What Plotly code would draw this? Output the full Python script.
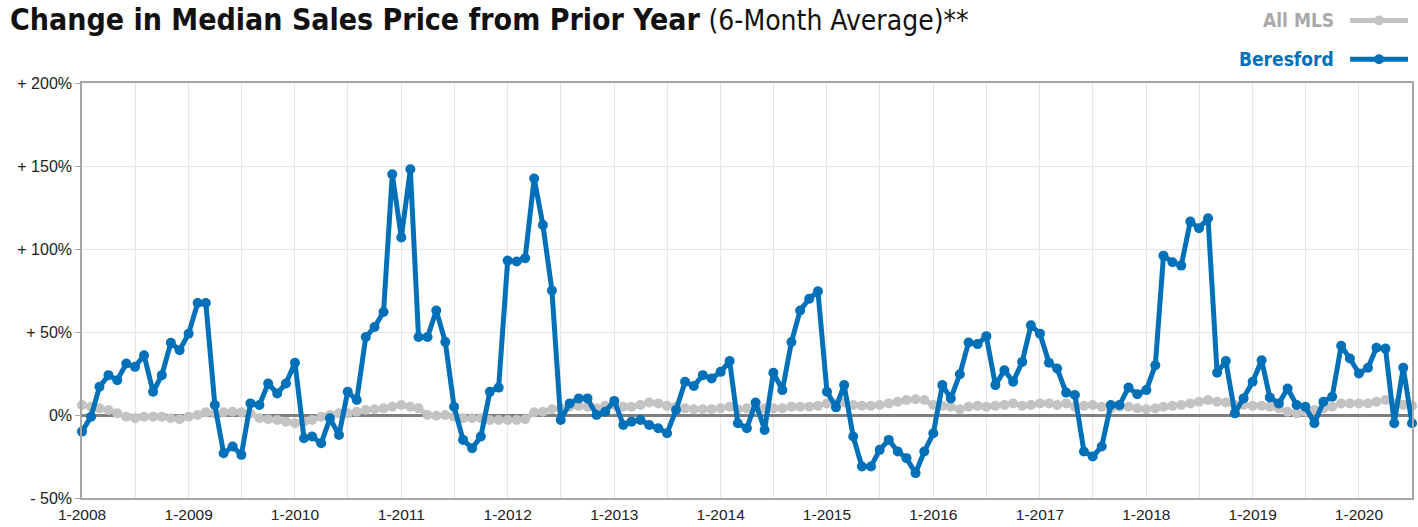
import plotly.graph_objects as go
import pandas as pd

# Monthly dates Jan 2008 - Jul 2020
months = pd.date_range("2008-01-01", "2020-07-01", freq="MS")

all_mls = [
    6, 5, 4, 3, 1, -1, -2, -1, -1, -1, -2, -2.5,
    -1, 0, 1.6, 1, 1.6, 2, 1.6, 1, -2, -2.5, -3, -4,
    -5, -4, -3, -1, 0, 1, 1, 2, 3, 3.5, 4, 5,
    6, 5, 4, 0, -0.5, 0, -1, -2, -2, -2, -3, -3,
    -3, -3, -2.5, 1.6, 2, 3.5, 4, 5, 5.5, 5, 4, 5.5,
    6, 5, 5, 6, 7.5, 7, 5.5, 5, 4, 3.5, 3.5, 3.5,
    4, 5, 3.5, 4, 4, 4, 4, 4, 5, 5, 5, 5.5,
    7, 7, 7.5, 6, 5.5, 5.5, 6, 7, 8, 9, 9.5, 9,
    6, 5.5, 5, 3.5, 5, 5.5, 5, 5.5, 6, 7, 5.5, 6,
    7, 7, 6, 7, 5, 5.5, 6, 5, 4, 5, 5, 4,
    3.5, 4, 5, 5.5, 6, 7, 8, 9, 8, 7.5, 6, 6,
    5.5, 5.5, 5, 4, 2, 1, 2, 3, 4, 5, 7, 7,
    7, 7, 8, 9, 7, 6, 5.5,
]

beresford = [
    -10, -1, 17, 24, 21, 31, 29, 36, 14, 24, 43.5, 39,
    49, 67.5, 67.5, 6, -23, -19, -24, 7, 6, 19, 13, 19,
    31.5, -14, -13, -17, -2, -12, 14, 9, 47, 53, 62, 145,
    107, 148, 47, 47, 63, 44, 5, -15, -20, -13, 14, 16.5,
    93, 92.5, 94.5, 142.5, 114.5, 75, -3, 7, 10, 10, 0, 2,
    8.5, -6, -4, -3, -6, -8, -11, 3, 20, 17.5, 24, 22,
    26, 32.5, -5, -8, 7.5, -9, 25.5, 15, 44, 63, 70, 74.5,
    14, 4.6, 18, -13, -31, -31, -21, -15, -22, -26, -35, -22,
    -11, 18, 10, 24.5, 43.7, 42.7, 47.5, 18, 27, 20, 32, 54,
    49, 31.5, 28, 13.5, 12, -22, -25, -19, 6, 6, 16.5, 12.5,
    15, 30, 96, 92, 90, 116.5, 112.5, 118.5, 25.5, 32.5, 1, 10,
    20, 33, 10.6, 7, 16, 6, 5, -5, 8, 11, 41.7, 34,
    25, 28.5, 40.5, 40, -5, 28.5, -5,
]

year_ticks = pd.date_range("2008-01-01", "2020-01-01", freq="YS")
year_labels = [f"1-{d.year}" for d in year_ticks]
y_ticks = [-50, 0, 50, 100, 150, 200]
y_labels = ["- 50%", "0%", "+ 50%", "+ 100%", "+ 150%", "+ 200%"]

GRAY = "#c3c3c3"
BLUE = "#0071b9"
FONT = "Liberation Sans, Arial, sans-serif"
TFONT = "Liberation Sans Narrow, DejaVu Sans Condensed, Arial Narrow, sans-serif"

fig = go.Figure()
fig.add_trace(go.Scatter(
    x=months, y=all_mls, mode="lines+markers", name="All MLS",
    line=dict(color=GRAY, width=5), marker=dict(color=GRAY, size=10),
    cliponaxis=False, showlegend=False,
))
fig.add_trace(go.Scatter(
    x=months, y=beresford, mode="lines+markers", name="Beresford",
    line=dict(color=BLUE, width=5), marker=dict(color=BLUE, size=10),
    cliponaxis=False, showlegend=False,
))

fig.update_layout(
    width=1418, height=527,
    margin=dict(l=82, r=4, t=83, b=26),
    plot_bgcolor="white", paper_bgcolor="white",
    font=dict(family=FONT, color="#222"),
    title=dict(
        text="<b>Change in Median Sales Price from Prior Year</b> <span style='font-size:28px'>(6-Month Average)**</span>",
        x=10 / 1418, xanchor="left", xref="container",
        y=1 - 19 / 527, yanchor="middle", yref="container",
        font=dict(family=TFONT, size=30, color="#111"),
    ),
)

fig.update_xaxes(
    range=[months[0], months[-1]],
    tickvals=year_ticks, ticktext=year_labels,
    showgrid=True, gridcolor="#e6e6e6", gridwidth=1,
    minor=dict(dtick="M6", tick0="2008-01-01", showgrid=True, gridcolor="#e6e6e6", ticks=""),
    showline=True, linecolor="#a6a6a6", linewidth=1.5, mirror=True,
    ticks="", ticklabelstandoff=2, tickfont=dict(size=15.5, color="#222"),
)
fig.update_yaxes(
    range=[-50, 200],
    tickvals=y_ticks, ticktext=y_labels,
    showgrid=True, gridcolor="#e6e6e6", gridwidth=1,
    zeroline=True, zerolinecolor="#7f7f7f", zerolinewidth=2.5,
    showline=True, linecolor="#a6a6a6", linewidth=1.5, mirror=True,
    ticks="outside", ticklen=5, tickcolor="#a6a6a6",
    tickfont=dict(size=16, color="#222"),
)

# Legend (text on left, key on right)
W, H = 1332, 418
def px_x(px):
    return (px - 82) / W
def px_y(py):
    return (501 - py) / H

legend_items = [("All MLS", GRAY, "#a9a9a9", 20), ("Beresford", BLUE, BLUE, 59)]
for label, col, tcol, py in legend_items:
    fig.add_annotation(
        text=f"<b>{label}</b>", xref="paper", yref="paper",
        x=px_x(1338), y=px_y(py), xanchor="right", yanchor="middle",
        showarrow=False, font=dict(size=19, color=tcol, family=TFONT),
    )
    fig.add_shape(type="line", xref="paper", yref="paper",
                  x0=px_x(1352), x1=px_x(1410), y0=px_y(py), y1=px_y(py),
                  line=dict(color=col, width=5))
    fig.add_shape(type="circle", xref="paper", yref="paper",
                  x0=px_x(1376), x1=px_x(1386), y0=px_y(py + 5), y1=px_y(py - 5),
                  line=dict(color=col, width=0), fillcolor=col)

fig.write_html(
    "out.html",
    config={"displayModeBar": False},
    post_script="document.body.style.margin='0';document.body.style.overflow='hidden';",
)
